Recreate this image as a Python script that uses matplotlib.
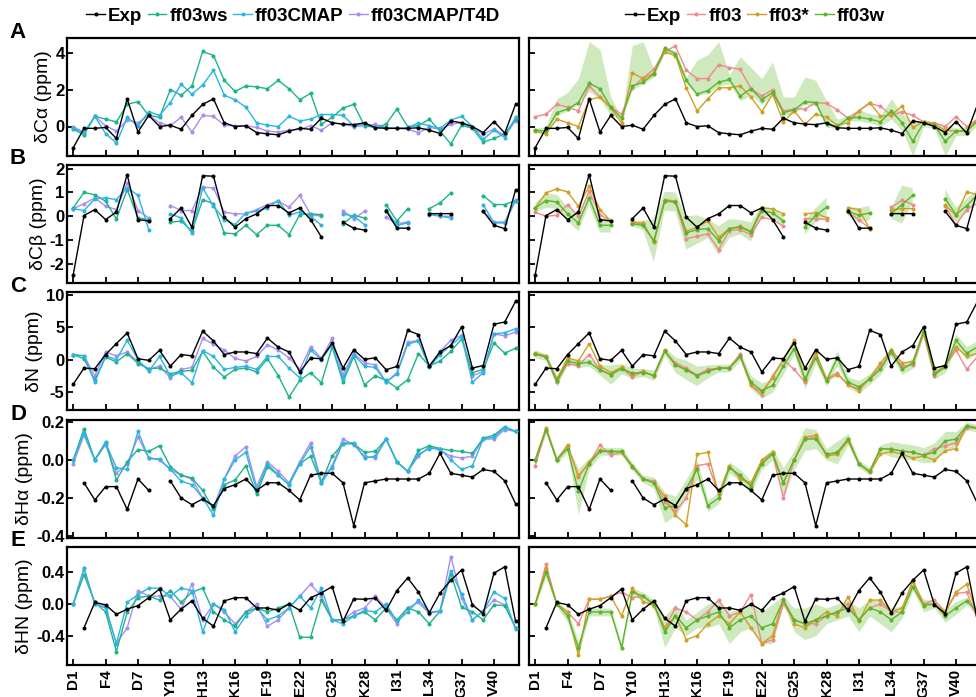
import numpy as np
import matplotlib
matplotlib.use("Agg")
import matplotlib.pyplot as plt

n = np.nan
res = np.arange(1, 43)
tick_res = [1, 4, 7, 10, 13, 16, 19, 22, 25, 28, 31, 34, 37, 40]
tick_lab = ['D1', 'F4', 'D7', 'Y10', 'H13', 'K16', 'F19', 'E22', 'G25', 'K28', 'I31', 'L34', 'G37', 'V40']

# ---- panel A: dCa ----
exp_ca = [-1.15,-0.1,-0.1,-0.05,-0.65,1.5,-0.3,0.6,0,0.07, -0.15,0.6,1.2,1.5,0.2,0,0.04,-0.33,-0.4,-0.45,
          -0.25,-0.1,-0.15,0.45,0.2,0.13,0.1,0.2,-0.07,-0.1, -0.1,-0.1,-0.07,-0.2,-0.38,0.3,0.2,0,-0.33,0.27, -0.36,1.2]
ws_ca = [-0.15,-0.45,0.55,0.4,0.25,1.2,1.35,0.6,0.5,2.0, 1.7,2.2,4.07,3.85,2.5,1.9,2.2,2.15,2.05,2.5,
         2.05,1.45,1.8,0.12,0.5,1.0,1.2,0.04,-0.05,0.12, 0.95,0,0.04,0.4,-0.25,-0.95,0.07,-0.1,-0.85,-0.65, -0.4,0.4]
cmap_ca = [-0.1,-0.33,0.55,-0.38,-0.9,0.5,0.04,0.8,0.6,1.3, 2.3,1.75,2.25,3.05,1.7,1.45,1.05,0.2,0.07,0,
           0.55,0.3,0.4,0.65,0.65,0.6,0.04,0.12,0,-0.07, -0.1,-0.07,0.2,0.04,-0.1,0.35,0.55,0,-0.7,-0.2, -0.6,0.5]
t4d_ca = [0,-0.33,0.55,0.04,-0.25,0.35,0.2,0.6,0.2,0.04, 0.5,-0.3,0.6,0.55,0.07,0.04,0.04,-0.05,-0.25,-0.3,
          -0.2,-0.15,0.04,-0.2,0.2,0.12,0,0.04,0.12,-0.05, -0.1,-0.15,-0.33,-0.05,-0.15,0.12,0.2,-0.1,-0.4,-0.15, -0.48,0.3]
ff03_ca = [0.53,0.67,1.2,1.05,0.85,2.2,1.6,1.05,0.67,2.1, 2.65,3.1,4.1,4.35,3.05,2.6,2.6,3.35,3.2,3.1,
           2.05,1.65,2.0,0.85,0.95,0.95,1.3,1.25,0.9,0.45, 0.85,1.25,1.1,0.6,0.8,0.6,0.25,0.2,0,0.53, 0,0.4]
ff03s_ca = [-0.25,-0.4,0.4,0.2,0,1.45,1.6,1.0,0.2,2.9, 2.6,2.9,4.05,3.85,2.1,0.85,1.5,2.1,2.1,2.2,
            1.6,0.8,1.75,0.25,0.85,0.12,0.67,0.5,0.07,0.2, 0.85,1.3,0.55,0.62,1.1,-0.05,0.25,0.12,-0.2,-0.25, -0.25,0.4]
ff03w_ca = [-0.2,-0.25,0.75,0.95,1.3,2.35,2.05,1.05,0.45,2.2, 2.4,2.85,4.25,3.95,2.5,1.75,1.95,2.4,2.55,1.65,
            2.05,1.45,1.85,0.75,0.9,1.35,1.3,0.12,0,0.45, 0.5,0.4,0.25,0.85,0.2,-0.8,0.2,0.07,-0.8,-0.25, -0.25,0.3]
ff03w_ca_hi = [-0.1,0.0,1.5,1.85,2.6,4.6,4.2,1.6,0.5,4.4, 4.6,3.1,4.3,4.1,2.7,3.6,3.9,4.6,2.8,3.8,
               3.2,2.6,3.5,1.6,1.6,2.7,2.5,1.4,0.4,0.6, 0.9,0.7,0.6,1.5,0.7,0.2,0.4,0.2,0.1,-0.1, 0.0,0.5]
ff03w_ca_lo = [-0.35,-0.4,0.6,0.85,1.2,1.9,1.5,0.6,0.4,2.0, 2.3,2.7,4.0,3.8,2.3,1.7,1.8,2.2,2.3,1.4,
               1.7,1.2,1.7,0.6,0.7,1.2,1.1,-0.05,-0.1,0.3, 0.3,0.2,0.0,0.4,-0.2,-1.6,0.0,-0.1,-1.6,-0.5, -0.5,0.1]

# ---- panel B: dCb ----
exp_cb = [-2.45,0.03,0.28,-0.14,0.18,1.75,-0.14,-0.2,n,-0.1, 0.35,-0.46,1.7,1.68,-0.04,-0.46,-0.1,0.1,0.45,0.45,
          0.14,0.35,-0.14,-0.87,n,-0.25,-0.5,-0.58,n,0.24, -0.5,-0.5,n,0.11,0.11,0.11,n,n,0.21,-0.38, -0.52,1.1]
ws_cb = [0.35,1.0,0.9,0.63,-0.11,1.12,-0.07,-0.14,n,-0.25, -0.2,-0.63,0.7,0.52,-0.7,-0.74,-0.38,-0.77,-0.38,-0.38,
         -0.77,0.07,0.1,0.07,n,-0.32,0.04,-0.07,n,0.49, -0.2,0.32,n,0.32,0.56,0.98,n,n,0.87,0.49, 0.49,0.66]
cmap_cb = [0.32,0.24,0.73,0.77,0.7,1.19,0.88,-0.56,n,0.1, -0.07,-0.7,1.19,0.42,-0.14,-0.35,0.14,0.21,0.35,0.66,
           0.04,0.18,0,-0.38,n,0.1,0,-0.35,n,0.28, -0.38,-0.28,n,0.07,0,-0.07,n,n,0.49,-0.28, -0.28,0.66]
t4d_cb = [0.32,0.52,0.77,0.42,0.28,1.4,0.24,-0.07,n,0.45, 0.24,0.24,1.22,1.19,0.17,0.1,0.1,0.28,0.49,0.63,
          0.38,0.88,0.07,0,n,0.24,-0.11,0.21,n,-0.04, -0.32,-0.24,n,0.14,0,0,n,n,0.21,-0.24, -0.24,0.7]
ff03_cb = [0.17,0,0.04,0.49,0,1.05,0.07,-0.2,n,-0.18, -0.38,-1.05,0.66,0.6,-0.94,-0.84,-0.74,-1.4,-0.6,-0.56,
           -0.77,-0.04,-0.14,-0.42,n,-0.1,-0.1,-0.14,n,0.18, -0.14,-0.52,n,0.38,0.67,0.49,n,n,0.42,-0.35, 0.28,0.56]
ff03s_cb = [0.35,0.98,1.15,1.02,0.42,1.26,0.28,-0.2,n,-0.28, -0.28,-1.08,0.7,0.63,-0.63,-0.46,-0.2,-0.88,-0.52,-0.42,
            -0.63,0.35,0.31,0.1,n,0.1,0.14,-0.07,n,0.35, 0.28,-0.52,n,0.28,0.32,0.32,n,n,0.46,0.04, 1.02,0.91]
ff03w_cb = [0.35,0.66,0.6,0.1,-0.28,0.77,-0.38,-0.38,n,-0.32, -0.38,-1.02,0.63,0.6,-0.7,-0.56,-0.52,-1.02,-0.52,-0.46,
            -0.66,0.24,0.14,-0.2,n,-0.46,0.04,0.38,n,0.21, 0.04,0.14,n,0.1,0.49,0.88,n,n,0.74,0.07, 0.45,0.91]
ff03w_cb_err = [0.2,0.3,0.3,0.3,0.35,0.3,0.3,0.3,n,0.1, 0.2,0.9,0.4,0.4,0.7,0.6,0.4,0.6,0.4,0.3,
                0.4,0.2,0.2,0.2,n,0.3,0.3,0.4,n,0.2, 0.3,0.3,n,0.2,0.8,0.3,n,n,0.4,0.3, 0.3,0.2]

# ---- panel C: dN ----
exp_n = [-3.8,-1.3,-1.4,0.8,2.5,4.15,0.15,-0.1,1.45,-1.0, 0.8,0.6,4.45,2.9,0.8,1.2,1.2,0.95,3.35,1.95,
         1.2,-1.9,0.25,0.15,2.6,-1.3,1.55,0.05,0.3,-1.55, -1.05,4.55,3.9,-1.0,1.2,2.2,5.1,-1.3,-0.9,5.5, 5.85,9.05]
ws_n = [0.8,0.15,-3.2,0.4,-0.35,0.95,-0.6,-1.4,-1.3,-2.2, -1.8,-1.65,1.3,-1.15,-2.7,-1.5,-1.3,-1.9,0.15,-2.45,
        -5.8,-3.2,-2.0,-3.6,2.0,-3.5,0.5,-3.9,-2.5,-3.2, -4.4,-3.1,0.95,-1.0,-0.2,1.3,3.2,-2.0,-1.5,2.6, 1.0,1.8]
cmap_n = [0.8,0.6,-3.5,0.6,0.0,3.0,0.0,-1.8,0.5,-2.5, -2.0,-3.6,1.4,0.5,-1.5,-1.2,-1.0,-1.5,0.5,0.5,
          -1.3,-2.8,1.5,0.0,2.3,-3.0,0.8,-1.0,-1.2,-3.5, -2.2,2.4,2.9,-1.2,0.8,2.3,3.6,-3.5,-2.0,4.0, 4.2,4.8]
t4d_n = [0.8,0.6,-2.5,1.2,0.6,1.2,-0.3,-1.5,-1.0,-2.8, -1.5,-1.2,3.3,2.4,1.5,0.2,-0.2,0.5,2.3,1.5,
         0.3,-1.5,2.0,0.2,3.3,-2.3,1.0,-0.5,-0.8,-3.5, -2.0,2.7,3.0,-1.0,1.3,3.0,3.8,-2.5,-1.8,4.0, 3.7,4.3]
ff03_n = [0.9,0.4,-3.5,-0.6,-0.9,0.8,-1.5,-2.4,-1.3,-2.7, -1.8,-2.6,1.3,-0.5,-1.3,-2.4,-1.5,-1.3,-1.3,0.95,
          -4.0,-5.5,-2.5,0.0,-1.5,-3.5,1.0,-3.0,-2.0,-4.0, -4.5,-3.0,-1.0,1.0,-1.0,-0.8,4.0,-2.5,-1.0,1.5, -1.5,0.5]
ff03s_n = [1.0,0.6,-3.0,0.3,-0.2,2.5,-1.0,-2.0,-1.2,-2.3, -1.8,-2.5,1.5,-0.8,-1.6,-2.5,-1.8,-1.3,-1.3,0.5,
           -4.0,-5.0,-2.8,0.0,3.0,-3.2,1.2,-3.2,-2.3,-3.8, -4.8,-2.8,-0.5,1.5,-0.5,-0.3,4.2,-2.0,-1.0,2.0, 0.5,1.0]
ff03w_n = [0.9,0.4,-3.3,-0.2,-0.6,-0.4,-1.6,-2.3,-1.4,-2.1, -2.0,-2.4,1.3,-0.8,-1.6,-2.5,-1.8,-1.3,-1.3,0.5,
           -3.5,-4.8,-4.0,-1.0,1.7,-3.0,0.3,-3.3,0.3,-3.5, -4.2,-3.0,-1.5,1.3,-1.5,-0.5,4.5,-2.2,-1.2,3.0, 1.0,2.0]
ff03w_n_err = [0.6,0.5,0.8,0.5,0.6,0.6,0.8,1.5,0.8,0.8, 0.6,0.8,0.6,1.2,1.5,1.5,1.0,0.6,0.6,0.6,
               1.0,1.2,1.0,1.2,0.8,1.5,0.8,0.8,1.2,0.8, 1.0,0.8,0.8,0.8,0.8,0.8,0.8,0.8,0.8,1.0, 1.0,1.0]

# ---- panel D: dHa ----
exp_ha = [n,-0.12,-0.21,-0.14,-0.14,-0.26,-0.1,-0.16,n,-0.11, -0.2,-0.235,-0.205,-0.24,-0.15,-0.13,-0.1,-0.16,-0.12,-0.12,
          -0.16,-0.21,-0.08,-0.07,-0.07,-0.12,-0.345,-0.12,-0.11,-0.1, -0.1,-0.1,-0.1,-0.07,0.035,-0.07,-0.08,-0.09,-0.05,-0.06, -0.11,-0.23]
ws_ha = [0,0.165,0,0.095,-0.105,-0.01,0.055,0.045,0.075,-0.035, -0.08,-0.095,-0.16,-0.26,-0.13,-0.105,-0.03,-0.18,-0.035,-0.08,
         -0.13,-0.02,0.02,-0.12,0.02,0.085,0.085,0.04,0.045,0.11, -0.01,-0.06,0.05,0.075,0.06,0.05,0.045,0.035,0.115,0.13, 0.175,0.15]
cmap_ha = [0.0,0.14,0.0,0.09,-0.04,-0.05,0.15,0.01,0.005,-0.05, -0.11,-0.13,-0.2,-0.29,-0.1,0.0,0.04,-0.16,-0.02,-0.08,
           -0.13,-0.02,0.07,-0.12,-0.04,0.09,0.09,0.01,0.02,0.11, -0.01,-0.06,0.03,0.06,0.06,0.0,-0.05,-0.03,0.11,0.12, 0.17,0.15]
t4d_ha = [-0.02,0.13,0.0,0.08,-0.07,-0.02,0.12,0.01,0.0,-0.05, -0.08,-0.1,-0.2,-0.25,-0.1,0.02,0.07,-0.14,-0.01,-0.06,
          -0.12,-0.01,0.09,-0.11,-0.03,0.11,0.08,0.02,0.01,0.11, -0.01,-0.06,0.02,0.07,0.05,0.02,0.01,0.02,0.11,0.11, 0.16,0.15]
ff03_ha = [-0.03,0.16,0.0,0.075,-0.08,-0.02,0.08,0.025,0.04,-0.035, -0.1,-0.11,-0.22,-0.27,-0.2,-0.03,-0.02,-0.18,-0.035,-0.095,
           -0.13,-0.01,0.035,-0.2,0.0,0.11,0.12,0.03,0.035,0.11, -0.02,-0.06,0.06,0.057,0.047,0.04,0.025,0.057,0.075,0.09, 0.17,0.165]
ff03s_ha = [0.0,0.17,0.0,0.08,-0.09,-0.01,0.05,0.045,0.04,-0.03, -0.1,-0.12,-0.19,-0.29,-0.34,0.03,0.04,-0.18,-0.03,-0.1,
            -0.12,0.0,0.04,-0.12,0.0,0.12,0.13,0.02,0.03,0.1, -0.02,-0.065,0.03,0.045,0.03,0.01,0.02,0.0,0.047,0.06, 0.18,0.17]
ff03w_ha = [0.0,0.16,0.0,0.06,-0.165,-0.02,0.045,0.045,0.045,-0.035, -0.1,-0.12,-0.25,-0.24,-0.15,-0.05,-0.24,-0.2,-0.04,-0.08,
            -0.14,-0.02,0.03,-0.12,0.0,0.11,0.11,0.03,0.04,0.11, -0.02,-0.06,0.06,0.057,0.047,0.04,0.025,0.04,0.1,0.11, 0.18,0.165]
ff03w_ha_err = [0.02,0.02,0.02,0.02,0.12,0.03,0.02,0.02,0.02,0.02, 0.02,0.03,0.08,0.05,0.05,0.05,0.03,0.03,0.03,0.03,
                0.03,0.03,0.03,0.08,0.05,0.06,0.05,0.03,0.06,0.03, 0.02,0.02,0.02,0.04,0.04,0.04,0.04,0.05,0.05,0.04, 0.02,0.02]

# ---- panel E: dHN ----
exp_hn = [n,-0.3,0.02,-0.01,-0.13,-0.065,-0.02,0.08,0.19,-0.2, -0.065,0.04,-0.18,-0.28,0.04,0.08,0.08,-0.05,-0.05,-0.08,
          0.0,-0.08,0.08,0.14,0.22,-0.22,0.065,0.06,0.075,-0.08, 0.17,0.33,0.15,-0.11,0.14,0.3,0.43,-0.01,-0.12,0.39, 0.47,-0.22]
ws_hn = [0.0,0.37,0.02,-0.1,-0.6,-0.1,0.08,0.1,0.05,0.17, 0.02,0.15,0.2,-0.1,-0.2,-0.28,-0.1,-0.05,-0.1,-0.05,
         0.0,-0.42,-0.42,0.05,-0.2,-0.2,-0.15,-0.1,-0.2,-0.05, -0.2,-0.05,-0.1,-0.25,-0.09,0.38,-0.04,-0.1,-0.2,-0.01, -0.02,-0.3]
cmap_hn = [0.0,0.45,0.0,-0.05,-0.5,0.02,0.12,0.2,0.2,0.1, 0.2,0.17,-0.35,0.0,-0.07,-0.35,-0.15,-0.05,-0.2,-0.15,
           -0.05,0.1,-0.05,0.2,-0.2,-0.25,-0.15,-0.08,-0.1,0.0, -0.22,-0.1,0.05,-0.1,-0.09,0.42,0.13,-0.2,-0.09,0.15, 0.07,-0.32]
t4d_hn = [0.0,0.45,0.0,-0.03,-0.5,-0.3,0.17,0.1,0.1,0.1, -0.07,0.25,-0.2,0.0,-0.1,-0.25,-0.1,0.0,-0.28,-0.2,
          -0.05,0.1,0.25,0.1,-0.2,-0.2,-0.1,-0.05,0.1,-0.05, -0.25,-0.05,0.02,-0.12,-0.09,0.6,0.07,-0.2,-0.09,0.05, -0.01,-0.3]
ff03_hn = [0.0,0.5,0.0,-0.1,-0.25,0.06,0.06,0.1,0.15,0.08, 0.1,-0.02,-0.3,-0.05,-0.1,-0.2,-0.1,0.05,-0.15,-0.1,
           0.12,-0.5,-0.45,0.0,-0.2,-0.25,-0.25,-0.15,-0.1,0.0, -0.2,-0.05,0.0,-0.1,-0.1,0.3,0.0,0.05,-0.1,0.13, 0.15,-0.2]
ff03s_hn = [0.0,0.45,0.0,-0.1,-0.65,0.06,0.06,0.1,-0.15,0.2, 0.03,-0.02,-0.3,-0.15,-0.45,-0.4,-0.25,-0.15,-0.25,-0.1,
            -0.3,-0.5,-0.4,0.06,-0.25,-0.3,-0.2,-0.1,-0.15,0.09, -0.22,0.05,0.05,-0.1,-0.05,0.28,0.0,0.0,-0.1,0.15, 0.25,-0.15]
ff03w_hn = [0.0,0.4,0.0,-0.15,-0.55,-0.1,-0.1,-0.1,-0.55,0.15, 0.1,0.0,-0.35,-0.15,-0.3,-0.2,-0.15,-0.1,-0.3,-0.2,
            -0.15,-0.3,-0.25,0.05,-0.2,-0.25,-0.2,-0.15,-0.1,-0.05, -0.2,-0.05,-0.1,-0.2,-0.1,0.22,-0.02,0.0,-0.15,-0.05, 0.04,-0.1]
ff03w_hn_err = [0.03,0.05,0.03,0.08,0.08,0.05,0.05,0.05,0.05,0.05, 0.05,0.05,0.2,0.15,0.1,0.1,0.15,0.15,0.2,0.15,
                0.15,0.2,0.25,0.05,0.15,0.2,0.2,0.1,0.1,0.1, 0.15,0.1,0.15,0.15,0.08,0.05,0.08,0.05,0.08,0.08, 0.05,0.05]

c_exp = 'black'
c_ws = '#1db48a'
c_cmap = '#2bb5e3'
c_t4d = '#ab8cf0'
c_ff03 = '#f0898b'
c_ff03s = '#d0a024'
c_ff03w = '#5ab52a'
c_band = '#a6d78a'

plt.rcParams['font.family'] = ['Liberation Sans Narrow', 'Liberation Sans', 'DejaVu Sans']
plt.rcParams['font.weight'] = 'bold'

fig = plt.figure(figsize=(9.76, 6.97), dpi=100)

ylabels = ['δCα (ppm)', 'δCβ (ppm)', 'δN (ppm)', 'δHα (ppm)', 'δHN (ppm)']
letters = ['A', 'B', 'C', 'D', 'E']
ylims = [(-1.6, 4.8), (-2.8, 2.15), (-7.8, 10.5), (-0.41, 0.21), (-0.77, 0.72)]
yticks = [[0, 2, 4], [-2, -1, 0, 1, 2], [-5, 0, 5, 10], [-0.4, -0.2, 0.0, 0.2], [-0.4, 0.0, 0.4]]
ytl = [['0', '2', '4'], ['-2', '-1', '0', '1', '2'], ['-5', '0', '5', '10'],
       ['-0.4', '-0.2', '0.0', '0.2'], ['-0.4', '0.0', '0.4']]
row_top = [38, 165, 292, 420, 547]
row_h = 118

left_data = [
    (exp_ca, ws_ca, cmap_ca, t4d_ca),
    (exp_cb, ws_cb, cmap_cb, t4d_cb),
    (exp_n, ws_n, cmap_n, t4d_n),
    (exp_ha, ws_ha, cmap_ha, t4d_ha),
    (exp_hn, ws_hn, cmap_hn, t4d_hn),
]
right_data = [
    (exp_ca, ff03_ca, ff03s_ca, ff03w_ca),
    (exp_cb, ff03_cb, ff03s_cb, ff03w_cb),
    (exp_n, ff03_n, ff03s_n, ff03w_n),
    (exp_ha, ff03_ha, ff03s_ha, ff03w_ha),
    (exp_hn, ff03_hn, ff03s_hn, ff03w_hn),
]
bands = [
    (ff03w_ca_lo, ff03w_ca_hi),
    (np.array(ff03w_cb) - np.array(ff03w_cb_err), np.array(ff03w_cb) + np.array(ff03w_cb_err)),
    (np.array(ff03w_n) - np.array(ff03w_n_err), np.array(ff03w_n) + np.array(ff03w_n_err)),
    (np.array(ff03w_ha) - np.array(ff03w_ha_err), np.array(ff03w_ha) + np.array(ff03w_ha_err)),
    (np.array(ff03w_hn) - np.array(ff03w_hn_err), np.array(ff03w_hn) + np.array(ff03w_hn_err)),
]

W, H = 976, 697
lw = 1.0
ms = 1.9


def style(ax, i, show_ylab):
    ax.set_xlim(0.45, 42.3)
    ax.set_ylim(*ylims[i])
    ax.set_xticks(tick_res)
    ax.set_yticks(yticks[i])
    ax.tick_params(direction='in', length=4, width=1.3, labelsize=12, pad=2)
    for s in ax.spines.values():
        s.set_linewidth(1.6)
    if show_ylab:
        ax.set_yticklabels(ytl[i], fontweight='bold')
        ax.set_ylabel(ylabels[i], fontsize=14, fontweight='normal',
                      family=['Liberation Sans', 'DejaVu Sans'], labelpad=2)
    else:
        ax.set_yticklabels([])
    if i == 4:
        ax.set_xticklabels(tick_lab, rotation=90, fontweight='bold', fontsize=11)
        ax.tick_params(axis='x', pad=3)
    else:
        ax.set_xticklabels([])


for i in range(5):
    y0 = 1 - (row_top[i] + row_h) / H
    h = row_h / H
    axl = fig.add_axes([67.3 / W, y0, 451.5 / W, h])
    axr = fig.add_axes([529.3 / W, y0, 451.5 / W, h])

    e, a, b, c = left_data[i]
    axl.plot(res, c, '-o', color=c_t4d, lw=lw, ms=ms, label='ff03CMAP/T4D', zorder=2)
    axl.plot(res, a, '-o', color=c_ws, lw=lw, ms=ms, label='ff03ws', zorder=3)
    axl.plot(res, b, '-o', color=c_cmap, lw=lw, ms=ms, label='ff03CMAP', zorder=4)
    axl.plot(res, e, '-o', color=c_exp, lw=lw, ms=ms, label='Exp', zorder=5)
    style(axl, i, True)

    e, a, b, c = right_data[i]
    lo, hi = bands[i]
    axr.fill_between(res, lo, hi, color=c_band, alpha=0.55, lw=0, zorder=1)
    axr.plot(res, a, '-o', color=c_ff03, lw=lw, ms=ms, label='ff03', zorder=2)
    axr.plot(res, b, '-o', color=c_ff03s, lw=lw, ms=ms, label='ff03*', zorder=3)
    axr.plot(res, c, '-o', color=c_ff03w, lw=lw, ms=ms, label='ff03w', zorder=4)
    axr.plot(res, e, '-o', color=c_exp, lw=lw, ms=ms, label='Exp', zorder=5)
    style(axr, i, False)

    fig.text(18 / W, 1 - (row_top[i] - 6) / H, letters[i], fontsize=16, fontweight='bold',
             ha='center', va='center', family=['Liberation Sans', 'DejaVu Sans'])

    if i == 0:
        hl, ll = axl.get_legend_handles_labels()
        order = ['Exp', 'ff03ws', 'ff03CMAP', 'ff03CMAP/T4D']
        hl = [hl[ll.index(k)] for k in order]
        axl.legend(hl, order, loc='lower center', bbox_to_anchor=(0.5, 1.0), ncol=4, frameon=False,
                   handlelength=1.0, handletextpad=0.15, columnspacing=0.3,
                   borderaxespad=0.3, prop={'weight': 'bold', 'size': 13.5})
        hr, lr = axr.get_legend_handles_labels()
        order = ['Exp', 'ff03', 'ff03*', 'ff03w']
        hr = [hr[lr.index(k)] for k in order]
        axr.legend(hr, order, loc='lower center', bbox_to_anchor=(0.5, 1.0), ncol=4, frameon=False,
                   handlelength=1.0, handletextpad=0.15, columnspacing=0.3,
                   borderaxespad=0.3, prop={'weight': 'bold', 'size': 13.5})

fig.savefig('out.png', dpi=100)
